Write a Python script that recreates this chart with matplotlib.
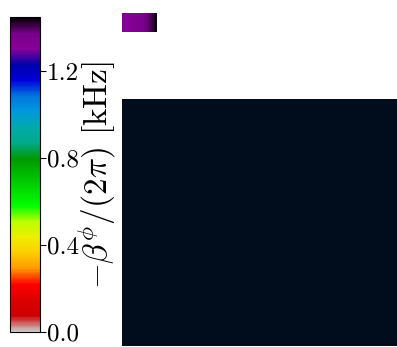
import numpy as np
import matplotlib
matplotlib.use("Agg")
import matplotlib.pyplot as plt
from matplotlib.colors import Normalize
from matplotlib.cm import ScalarMappable

plt.rcParams["font.family"] = "serif"
plt.rcParams["font.serif"] = ["cmr10", "DejaVu Serif"]
plt.rcParams["mathtext.fontset"] = "cm"
plt.rcParams["axes.formatter.use_mathtext"] = True

# colour scale for the phase-rate map
vmin, vmax = 0.0, 1.45
cbar_ticks = [0.0, 0.4, 0.8, 1.2]
cbar_ticklabels = ["0.0", "0.4", "0.8", "1.2"]
cbar_label = r"$-\beta^{\phi}/(2\pi)$ [kHz]"

# strip of rates shown in the top inset
strip_values = [1.31, 1.31, 1.32, 1.32, 1.33, 1.33, 1.34, 1.35, 1.36, 1.37,
                1.38, 1.39, 1.40, 1.42, 1.44]

# main map panel background
panel_color = "#010d1d"

W, H = 397, 347
fig = plt.figure(figsize=(W / 100, H / 100), dpi=100)

cmap = plt.get_cmap("nipy_spectral_r")
norm = Normalize(vmin=vmin, vmax=vmax)

# colourbar
cax = fig.add_axes([10 / W, (H - 332) / H, 30 / W, 315 / H])
cb = fig.colorbar(ScalarMappable(norm=norm, cmap=cmap), cax=cax)
cb.set_ticks(cbar_ticks)
cb.set_ticklabels(cbar_ticklabels)
cax.tick_params(labelsize=18, length=4, width=0.8, pad=1)
cb.outline.set_linewidth(0.8)
cb.set_label(cbar_label, fontsize=24, labelpad=-2)

# inset strip
sax = fig.add_axes([122 / W, (H - 32) / H, 35 / W, 19 / H])
sax.imshow(np.array([strip_values]), cmap=cmap, norm=norm, aspect="auto",
           interpolation="bilinear")
sax.set_axis_off()

# main panel
pax = fig.add_axes([122 / W, 1 / H, (W - 122) / W, (346 - 99) / H])
pax.set_facecolor(panel_color)
pax.set_xticks([])
pax.set_yticks([])
for s in pax.spines.values():
    s.set_visible(False)

fig.savefig("out.png", dpi=100)
